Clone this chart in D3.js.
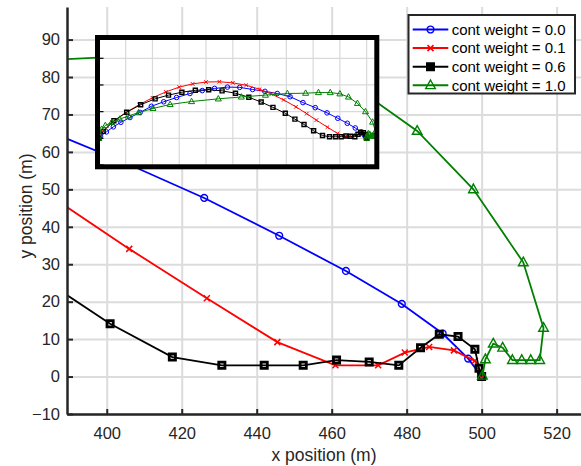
<!DOCTYPE html>
<html lang="en">
<head>
  <meta charset="UTF-8">
  <title>Trajectories</title>
  <script src="https://d3js.org/d3.v7.min.js"></script>
  <style>
    body { margin: 0; background: #fff; }
    svg { display: block; font-family: "Liberation Sans", Arial, sans-serif; }
    .grid line { stroke: #dcdcdc; stroke-width: 2; }
    .grid path { display: none; }
    .axis path, .axis line { stroke: #262626; }
    .axis path { stroke-width: 2.5; }
    .axis text { fill: #262626; font-size: 16.5px; }
  </style>
</head>
<body>
<div class="main"></div>
<script>

  // trajectories, x / y in metres (full paths, main view only shows the end)
  var x00 = [0, 3, 14, 27, 41, 58, 77, 98, 121, 145, 170, 193, 216, 240, 263, 287, 310, 333, 357, 381, 404, 426, 446, 463.8, 478.7, 489.6, 496.4, 500];
  var y00 = [0, 4, 12, 21.5, 30, 39, 48.5, 60, 68.5, 76.5, 84, 89.5, 93.5, 96, 95.5, 91.5, 88, 84, 78, 67, 57.5, 47.7, 37.6, 28.2, 19.4, 11.5, 4.8, 0];

  var x01 = [0, 8, 25, 50, 75, 100, 125, 150, 175, 200, 225, 250, 275, 300, 322, 345, 368, 388, 406, 426.7, 445.5, 461, 472.4, 479.5, 486, 492.6, 498.2, 499.6, 500];
  var y01 = [0, 14, 30, 48, 63, 76, 87, 96, 102, 105.5, 106, 104, 99.5, 92, 83, 72, 59, 46.2, 34.1, 20.9, 9.2, 3.0, 3.0, 6.4, 7.9, 7.0, 4.2, 1.5, 0];

  var x06 = [0, 8, 28, 52, 78, 105, 130, 155, 180, 205, 230, 255, 280, 303, 325, 348, 366, 383, 400.9, 417.5, 430.7, 442, 452.4, 461.3, 470, 477.9, 483.7, 488.7, 493.7, 498.2, 499.3, 500];
  var y06 = [0, 13, 33, 49, 63, 74, 81, 86.5, 90, 91, 89, 84.5, 77, 68, 58, 47, 36, 26, 14.1, 5.2, 3.0, 3.0, 3.0, 4.4, 3.9, 3.0, 7.7, 11.3, 10.7, 7.3, 2.2, 0];

  var x10 = [0, 1, 5, 12, 24, 39, 55, 74, 101, 133, 173, 223, 266, 311, 352, 386, 410, 432, 450, 466, 482.8, 497.8, 511.1, 516.5, 515.5, 513.1, 510.7, 508.2, 505.6, 503.1, 501, 500.2];
  var y10 = [0, 9, 17, 24, 30, 36, 42, 48, 56, 63.5, 69, 74, 77.5, 81, 84, 84.6, 85.8, 85.8, 83.5, 77.5, 65.6, 50, 30.5, 13, 4.4, 4.4, 4.4, 4.4, 7.7, 8.8, 4.6, 0.2];

  var seriesNames = ["cont weight = 0.0", "cont weight = 0.1", "cont weight = 0.6", "cont weight = 1.0"];
  var seriesColors = ["#0000ff", "#ff0000", "#000000", "#008000"];
  var seriesMarkers = ["circle", "cross", "square", "triangle"];

  var xTicks = [400, 420, 440, 460, 480, 500, 520];
  var yTicks = [-10, 0, 10, 20, 30, 40, 50, 60, 70, 80, 90];
  var insetXTicks = [0, 50, 100, 150, 200, 250, 300, 350, 400, 450, 500];
  var insetYTicks = [-50, 0, 50, 100, 150];

  var width = 581, height = 466;
  var series = [[x00, y00], [x01, y01], [x06, y06], [x10, y10]].map(function (s, i) {
    return { name: seriesNames[i], color: seriesColors[i], marker: seriesMarkers[i], pts: d3.zip(s[0], s[1]) };
  });

  var svg = d3.select(".main").append("svg")
          .attr("width", width)
          .attr("height", height);

  // main axes
  var pLeft = 67, pRight = 581, pTop = 7, pBottom = 414;
  var xScale = d3.scaleLinear().domain([389.4, 526.5]).range([pLeft, pRight]);
  var yScale = d3.scaleLinear().domain([-10, 98.7]).range([pBottom, pTop]);

  svg.append("g").attr("class", "grid")
          .attr("transform", `translate(0,${pBottom})`)
          .call(d3.axisBottom(xScale).tickValues(xTicks).tickSize(-(pBottom - pTop)).tickFormat(""));
  svg.append("g").attr("class", "grid")
          .attr("transform", `translate(${pLeft},0)`)
          .call(d3.axisLeft(yScale).tickValues(yTicks).tickSize(-(pRight - pLeft)).tickFormat(""));

  svg.append("clipPath").attr("id", "mainClip")
          .append("rect").attr("x", pLeft).attr("y", pTop).attr("width", pRight - pLeft).attr("height", pBottom - pTop);

  function markerPath(type, s) {
    if (type == "triangle") return `M0,${-s * 1.1}L${s},${s * 0.7}L${-s},${s * 0.7}Z`;
    if (type == "cross") return `M${-s},${-s}L${s},${s}M${-s},${s}L${s},${-s}`;
    if (type == "square") return `M${-s},${-s}H${s}V${s}H${-s}Z`;
    return d3.arc()({ innerRadius: 0, outerRadius: s, startAngle: 0, endAngle: 2 * Math.PI });
  }

  var mainSize = { circle: 3.4, cross: 3, square: 3.1, triangle: 4.8 };
  var mainStroke = { circle: 1.4, cross: 1.5, square: 2.8, triangle: 1.4 };

  function drawSeries(g, xs, ys, lineW, sizes, strokes) {
    series.forEach(function (s) {
      g.append("path")
              .datum(s.pts)
              .attr("d", d3.line().x(d => xs(d[0])).y(d => ys(d[1])))
              .attr("fill", "none")
              .attr("stroke", s.color)
              .attr("stroke-width", lineW);
      g.append("g").selectAll("path")
              .data(s.pts)
              .join("path")
              .attr("d", markerPath(s.marker, sizes[s.marker]))
              .attr("transform", d => `translate(${xs(d[0])},${ys(d[1])})`)
              .attr("fill", "none")
              .attr("stroke", s.color)
              .attr("stroke-width", strokes[s.marker]);
    });
  }

  var plot = svg.append("g").attr("clip-path", "url(#mainClip)");
  drawSeries(plot, xScale, yScale, 1.8, mainSize, mainStroke);

  var xAxis = svg.append("g").attr("class", "axis")
          .attr("transform", `translate(0,${pBottom})`)
          .call(d3.axisBottom(xScale).tickValues(xTicks).tickSizeInner(-5).tickSizeOuter(0).tickPadding(13));
  var yAxis = svg.append("g").attr("class", "axis")
          .attr("transform", `translate(${pLeft},0)`)
          .call(d3.axisLeft(yScale).tickValues(yTicks).tickSizeInner(-6).tickSizeOuter(0).tickPadding(7));
  xAxis.selectAll(".tick line").attr("stroke-width", 2);
  yAxis.selectAll(".tick line").attr("stroke-width", 2);

  svg.append("text").attr("x", 324).attr("y", 461).attr("text-anchor", "middle")
          .style("font-size", "17.5px").style("fill", "#262626").text("x position (m)");
  svg.append("text").attr("transform", "translate(32,206) rotate(-90)").attr("text-anchor", "middle")
          .style("font-size", "17.5px").style("fill", "#262626").text("y position (m)");

  // inset, whole trajectories
  var iL = 97.5, iR = 376.8, iT = 37.5, iB = 166.8;
  var ixScale = d3.scaleLinear().domain([-2.6, 518.9]).range([iL, iR]);
  var iyScale = d3.scaleLinear().domain([-53.4, 189]).range([iB, iT]);
  var inset = svg.append("g");
  inset.append("rect").attr("x", iL).attr("y", iT).attr("width", iR - iL).attr("height", iB - iT).attr("fill", "#fff");
  inset.append("g").selectAll("line").data(insetXTicks).join("line")
          .attr("x1", d => ixScale(d)).attr("x2", d => ixScale(d)).attr("y1", iT).attr("y2", iB)
          .attr("stroke", "#d9d9d9").attr("stroke-width", 1.2);
  inset.append("g").selectAll("line").data(insetYTicks).join("line")
          .attr("x1", iL).attr("x2", iR).attr("y1", d => iyScale(d)).attr("y2", d => iyScale(d))
          .attr("stroke", "#d9d9d9").attr("stroke-width", 1.2);
  inset.append("g").selectAll("line").data(insetYTicks).join("line")
          .attr("x1", iL).attr("x2", iL + 6).attr("y1", d => iyScale(d)).attr("y2", d => iyScale(d))
          .attr("stroke", "#000").attr("stroke-width", 1.2);

  svg.append("clipPath").attr("id", "insetClip")
          .append("rect").attr("x", iL).attr("y", iT).attr("width", iR - iL).attr("height", iB - iT);
  var insetPlot = inset.append("g").attr("clip-path", "url(#insetClip)");
  drawSeries(insetPlot, ixScale, iyScale, 1,
          { circle: 2.3, cross: 1.8, square: 2, triangle: 3 },
          { circle: 1, cross: 1, square: 1.4, triangle: 1 });

  inset.append("rect").attr("x", iL).attr("y", iT).attr("width", iR - iL).attr("height", iB - iT)
          .attr("fill", "none").attr("stroke", "#000").attr("stroke-width", 5);

  // legend
  var legend = svg.append("g");
  legend.append("rect").attr("x", 408.5).attr("y", 15).attr("width", 166.5).attr("height", 78.5)
          .attr("fill", "#fff").attr("stroke", "#262626").attr("stroke-width", 2);
  series.forEach(function (s, i) {
    var ly = 29.5 + i * 18.6;
    legend.append("line").attr("x1", 412.7).attr("x2", 448.3).attr("y1", ly).attr("y2", ly)
            .attr("stroke", s.color).attr("stroke-width", 2);
    legend.append("path").attr("d", markerPath(s.marker, mainSize[s.marker]))
            .attr("transform", `translate(430.5,${ly})`)
            .attr("fill", s.marker == "square" ? s.color : "none")
            .attr("stroke", s.color).attr("stroke-width", mainStroke[s.marker]);
    legend.append("text").attr("x", 451.7).attr("y", ly).attr("dy", "0.35em")
            .style("font-size", "15px").style("fill", "#000").text(s.name);
  });

</script>
</body>
</html>
